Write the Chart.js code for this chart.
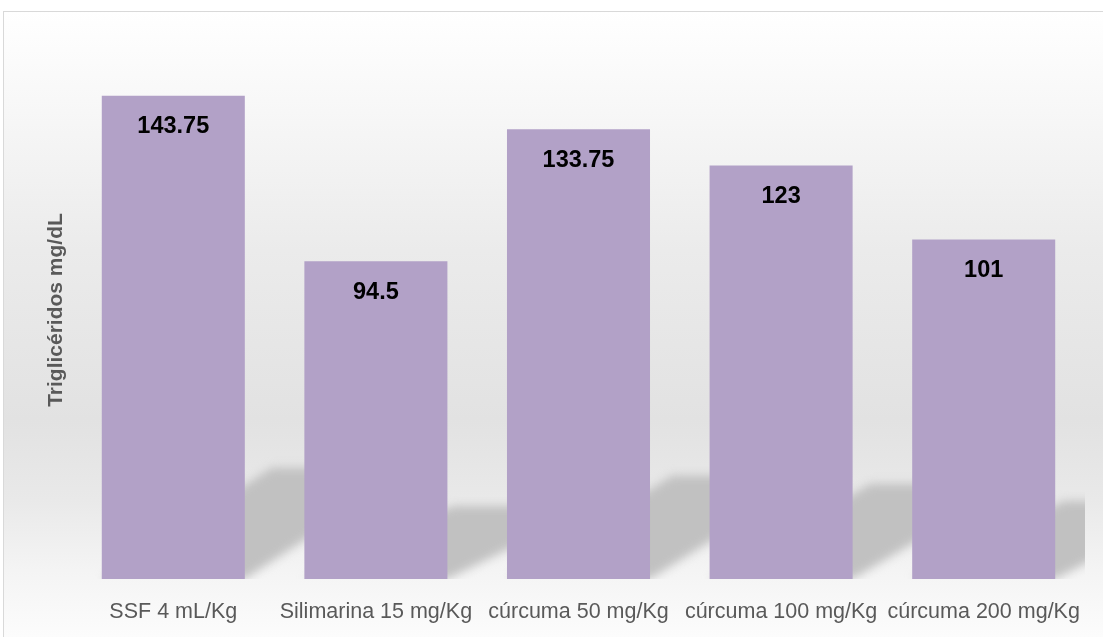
<!DOCTYPE html>
<html>
<head>
<meta charset="utf-8">
<script src="https://cdn.jsdelivr.net/npm/chart.js@4.4.1/dist/chart.umd.min.js"></script>
<style>
html,body{margin:0;padding:0;background:#fff;}
#wrap{width:1103px;height:637px;position:relative;}
</style>
</head>
<body>
<div id="wrap"><canvas id="c" width="1103" height="637"></canvas></div>
<script>
const categories = ["SSF 4 mL/Kg", "Silimarina 15 mg/Kg", "cúrcuma 50 mg/Kg", "cúrcuma 100 mg/Kg", "cúrcuma 200 mg/Kg"];
const trigliceridos = [143.75, 94.5, 133.75, 123, 101];
const yAxisTitle = "Triglicéridos mg/dL";

Chart.defaults.font.family = "'Liberation Sans', Arial, sans-serif";

const backgroundPlugin = {
  id: 'bg',
  beforeDraw(chart) {
    const ctx = chart.ctx;
    ctx.save();
    ctx.fillStyle = '#ffffff';
    ctx.fillRect(0, 0, chart.width, chart.height);
    const top = 11, bottom = chart.height;
    const g = ctx.createLinearGradient(0, top, 0, bottom);
    const st = (y, c) => g.addColorStop(Math.min(1, Math.max(0, (y - top) / (bottom - top))), c);
    st(11, '#ffffff'); st(100, '#f8f8f8'); st(250, '#ebebeb'); st(420, '#e2e2e2');
    st(500, '#e9e9e9'); st(570, '#f4f4f4'); st(637, '#fcfcfc');
    ctx.fillStyle = g;
    ctx.fillRect(3, top, chart.width, bottom - top);
    ctx.strokeStyle = '#d9d9d9';
    ctx.lineWidth = 1;
    ctx.strokeRect(3.5, 11.5, chart.width + 10, chart.height + 10);
    ctx.restore();
  },
  beforeDatasetsDraw(chart) {
    const ctx = chart.ctx;
    const area = chart.chartArea;
    const meta = chart.getDatasetMeta(0);
    ctx.save();
    ctx.beginPath();
    ctx.rect(area.left, area.top, area.right - area.left, area.bottom - area.top);
    ctx.clip();
    ctx.filter = 'blur(5px)';
    ctx.fillStyle = '#c1c1c1';
    meta.data.forEach(bar => {
      const p = bar.getProps(['x', 'y', 'base', 'width'], true);
      const L = p.x - p.width / 2, R = p.x + p.width / 2, B = p.base;
      const h = B - p.y;
      const hs = 0.23 * h, s = 0.13 * h + 107;
      ctx.beginPath();
      ctx.moveTo(L, B);
      ctx.lineTo(R, B);
      ctx.lineTo(R + s, B - hs);
      ctx.lineTo(L + s, B - hs);
      ctx.closePath();
      ctx.fill();
    });
    ctx.restore();
  },
  afterDatasetsDraw(chart) {
    const ctx = chart.ctx;
    const meta = chart.getDatasetMeta(0);
    const data = chart.data.datasets[0].data;
    ctx.save();
    ctx.font = "bold 23.5px 'Liberation Sans', Arial, sans-serif";
    ctx.fillStyle = '#000000';
    ctx.textAlign = 'center';
    ctx.textBaseline = 'middle';
    meta.data.forEach((bar, i) => {
      const p = bar.getProps(['x', 'y'], true);
      ctx.fillText(String(data[i]), p.x, p.y + 31);
    });
    ctx.restore();
  }
};

new Chart(document.getElementById('c'), {
  type: 'bar',
  data: {
    labels: categories,
    datasets: [{
      data: trigliceridos,
      backgroundColor: '#B2A1C7',
      borderWidth: 0,
      categoryPercentage: 1.0,
      barPercentage: 0.706
    }]
  },
  options: {
    responsive: false,
    animation: false,
    devicePixelRatio: 1,
    layout: { padding: { left: 0, right: 18, top: 41, bottom: 0 } },
    plugins: { legend: { display: false }, tooltip: { enabled: false } },
    scales: {
      x: {
        grid: { display: false, drawTicks: false },
        border: { display: false },
        ticks: { color: '#595959', font: { size: 21.5 }, padding: 20, maxRotation: 0, autoSkip: false },
        afterFit(scale) { scale.height = 58; }
      },
      y: {
        min: 0, max: 160,
        grid: { display: false, drawTicks: false },
        border: { display: false },
        ticks: { display: false },
        title: { display: true, text: yAxisTitle, color: '#595959', font: { size: 21, weight: 'bold' }, padding: { top: 44, bottom: 0 } },
        afterFit(scale) { scale.width = 72; }
      }
    }
  },
  plugins: [backgroundPlugin]
});
</script>
</body>
</html>
